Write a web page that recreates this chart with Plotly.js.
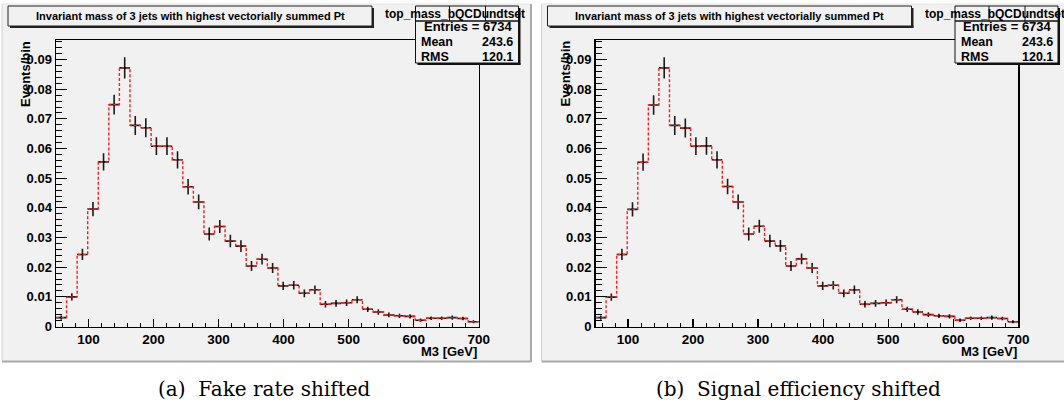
<!DOCTYPE html>
<html>
<head>
<meta charset="utf-8">
<script src="https://cdn.plot.ly/plotly-3.0.1.min.js"></script>
<style>html,body{margin:0;padding:0;background:#fff;}#chart{width:1064px;height:406px;}</style>
</head>
<body>
<div id="chart"></div>
<script>
// ---- data ----
const binLow = 50;
const binWidth = 16.25;
// panel (a): Fake rate shifted
const valuesA = [0.0030, 0.0100, 0.0243, 0.0396, 0.0555, 0.0748, 0.0872, 0.0678, 0.0670, 0.0608,
                 0.0608, 0.0562, 0.0471, 0.0420, 0.0312, 0.0337, 0.0288, 0.0271, 0.0204, 0.0227,
                 0.0197, 0.0137, 0.0139, 0.0112, 0.0124, 0.0075, 0.0078, 0.0080, 0.0090, 0.0058,
                 0.0049, 0.0039, 0.0036, 0.0034, 0.0021, 0.0028, 0.0028, 0.0030, 0.0027, 0.0016];
const errorsA = [0.0007, 0.0012, 0.0019, 0.0024, 0.0029, 0.0033, 0.0036, 0.0032, 0.0032, 0.0030,
                 0.0030, 0.0029, 0.0026, 0.0025, 0.0022, 0.0022, 0.0021, 0.0020, 0.0017, 0.0018,
                 0.0017, 0.0014, 0.0014, 0.0013, 0.0014, 0.0011, 0.0011, 0.0011, 0.0012, 0.0009,
                 0.0009, 0.0008, 0.0007, 0.0007, 0.0006, 0.0006, 0.0006, 0.0007, 0.0006, 0.0005];
// panel (b): Signal efficiency shifted
const valuesB = [0.0030, 0.0099, 0.0243, 0.0395, 0.0554, 0.0747, 0.0872, 0.0678, 0.0669, 0.0608,
                 0.0609, 0.0562, 0.0472, 0.0420, 0.0312, 0.0338, 0.0288, 0.0272, 0.0204, 0.0228,
                 0.0197, 0.0137, 0.0139, 0.0112, 0.0124, 0.0075, 0.0078, 0.0080, 0.0090, 0.0058,
                 0.0049, 0.0040, 0.0036, 0.0034, 0.0021, 0.0028, 0.0028, 0.0030, 0.0027, 0.0016];
const errorsB = errorsA.slice();

const xTickVals = [100, 200, 300, 400, 500, 600, 700];
const xTickText = ['100', '200', '300', '400', '500', '600', '700'];
const yTickVals = [0, 0.01, 0.02, 0.03, 0.04, 0.05, 0.06, 0.07, 0.08, 0.09];
const yTickText = ['0', '0.01', '0.02', '0.03', '0.04', '0.05', '0.06', '0.07', '0.08', '0.09'];

const histTitle = 'Invariant mass of 3 jets with highest vectorially summed Pt';
const statName = 'top_mass_bQCDundtset';
const statEntries = 'Entries = 6734';
const statMean = '243.6';
const statRMS = '120.1';
const xTitle = 'M3 [GeV]';
const yTitle = 'Events/bin';
const captions = ['(a)  Fake rate shifted', '(b)  Signal efficiency shifted'];

// ---- helpers ----
const W = 1064, H = 406;
const PX = p => p / W;
const PY = p => 1 - p / H;
const FONT = 'Liberation Sans';
const B = s => '<b>' + s + '</b>';

const centers = valuesA.map((_, i) => binLow + (i + 0.5) * binWidth);
const edges = valuesA.map((_, i) => binLow + i * binWidth).concat([binLow + valuesA.length * binWidth]);

function panelTraces(vals, errs, xa, ya) {
  return [
    {
      type: 'scatter', mode: 'markers', x: centers, y: vals, xaxis: xa, yaxis: ya,
      marker: {size: 2, color: '#000'},
      error_y: {type: 'data', array: errs, visible: true, width: 0, thickness: 1.6, color: '#1a1a1a'},
      error_x: {type: 'constant', value: binWidth / 2, visible: true, width: 0, thickness: 1.6, color: '#1a1a1a'},
      hoverinfo: 'skip', showlegend: false
    },
    {
      type: 'scatter', mode: 'lines', x: edges, y: vals.concat([vals[vals.length - 1]]), xaxis: xa, yaxis: ya,
      line: {shape: 'hv', color: '#ff1a1a', width: 1.4, dash: '3px,2px'},
      hoverinfo: 'skip', showlegend: false
    }
  ];
}

const data = panelTraces(valuesA, errorsA, 'x', 'y').concat(panelTraces(valuesB, errorsB, 'x2', 'y2'));

const shapes = [];
const annotations = [];
const offsets = [0, 539.5];

function rect(x0, y0, x1, y1, fill, lc, lw) {
  shapes.push({type: 'rect', xref: 'paper', yref: 'paper', x0: PX(x0), x1: PX(x1), y0: PY(y1), y1: PY(y0),
    fillcolor: fill, line: {color: lc, width: lw}, layer: 'below'});
}
function line(x0, y0, x1, y1, color, width, layer) {
  shapes.push({type: 'line', xref: 'paper', yref: 'paper', x0: PX(x0), x1: PX(x1), y0: PY(y0), y1: PY(y1),
    line: {color: color, width: width}, layer: layer || 'below'});
}
function text(t, x, y, size, xanchor, opts) {
  annotations.push(Object.assign({text: B(t), xref: 'paper', yref: 'paper', x: PX(x), y: PY(y),
    xanchor: xanchor, yanchor: 'middle', showarrow: false,
    font: {family: FONT, size: size, color: '#000'}}, opts || {}));
}

offsets.forEach((dx, k) => {
  // canvas
  rect(2 + dx, 4, 531 + dx, 361, '#f1f1f1', 'rgba(0,0,0,0)', 0);
  line(2 + dx, 4, 2 + dx, 361, '#d2d2d2', 1);
  line(2 + dx, 4, 531 + dx, 4, '#e6e6e6', 1);
  line(531 + dx, 4, 531 + dx, 362, '#a9a9a9', 2);
  line(2 + dx, 361.5, 531 + dx, 361.5, '#a9a9a9', 2);
  // title box
  const tb = {x0: 8 + dx, y0: 6, x1: 372 + dx, y1: 26};
  shapes.push({type: 'rect', xref: 'paper', yref: 'paper', x0: PX(tb.x0), x1: PX(tb.x1), y0: PY(tb.y1), y1: PY(tb.y0),
    fillcolor: '#f1f1f1', line: {color: '#222', width: 1}, layer: 'above'});
  line(tb.x1 + 1, tb.y0 + 2, tb.x1 + 1, tb.y1 + 1.5, '#222', 2, 'above');
  line(tb.x0 + 2, tb.y1 + 1, tb.x1 + 2, tb.y1 + 1, '#222', 2, 'above');
  text(histTitle, 190 + dx, 16.5, 11, 'center');
  // stat box header name
  text(statName, 383 + dx, 13.5, 12, 'left');
  // stat box
  const sb = {x0: 415.5 + dx, y0: 6, x1: 518.5 + dx, y1: 63};
  shapes.push({type: 'rect', xref: 'paper', yref: 'paper', x0: PX(sb.x0), x1: PX(sb.x1), y0: PY(sb.y1), y1: PY(21),
    fillcolor: '#f1f1f1', line: {color: '#111', width: 1}, layer: 'above'});
  shapes.push({type: 'rect', xref: 'paper', yref: 'paper', x0: PX(sb.x0), x1: PX(sb.x1), y0: PY(21), y1: PY(sb.y0),
    fillcolor: 'rgba(0,0,0,0)', line: {color: '#111', width: 1}, layer: 'above'});
  line(449.5 + dx, 6, 449.5 + dx, 21, '#111', 1, 'above');
  line(485.5 + dx, 6, 485.5 + dx, 21, '#111', 1, 'above');
  line(sb.x1 + 1, sb.y0 + 2, sb.x1 + 1, sb.y1 + 1.5, '#111', 2, 'above');
  line(sb.x0 + 2, sb.y1 + 1, sb.x1 + 2, sb.y1 + 1, '#111', 2, 'above');
  text(statEntries, 468 + dx, 27, 13, 'center');
  text('Mean', 419 + dx, 42, 12.5, 'left');
  text(statMean, 515 + dx, 42, 12.5, 'right');
  text('RMS', 419 + dx, 57, 12.5, 'left');
  text(statRMS, 515 + dx, 57, 12.5, 'right');
  // axis titles
  text(xTitle, 479 + dx, 351, 13, 'right');
  annotations.push({text: B(yTitle), xref: 'paper', yref: 'paper', x: PX(25 + dx), y: PY(39), xanchor: 'center', yanchor: 'top',
    textangle: -90, showarrow: false, font: {family: FONT, size: 13, color: '#000'}});
  // caption
  annotations.push({text: captions[k], xref: 'paper', yref: 'paper', x: PX(264 + dx - (k ? 5 : 0)), y: PY(389),
    xanchor: 'center', yanchor: 'middle', showarrow: false,
    font: {family: 'DejaVu Serif', size: 20, color: '#000'}});
});

function xAxis(domain, anchor) {
  return {domain: domain, anchor: anchor, range: [50, 700], showgrid: false, zeroline: false,
    showline: true, linecolor: '#000', linewidth: 1.5, mirror: true,
    ticks: 'inside', ticklen: 8, tickwidth: 1.2, tickcolor: '#000',
    tickmode: 'array', tickvals: xTickVals, ticktext: xTickText.map(B),
    minor: {tickmode: 'linear', tick0: 0, dtick: 20, ticks: 'inside', ticklen: 4, tickwidth: 1, tickcolor: '#000'},
    tickfont: {family: FONT, size: 13.5, color: '#000'}, fixedrange: true};
}
function yAxis(anchor) {
  return {domain: [PY(326.5), PY(40)], anchor: anchor, range: [0, 0.0966], showgrid: false, zeroline: false,
    showline: true, linecolor: '#000', linewidth: 1.5, mirror: true,
    ticks: 'inside', ticklen: 11, tickwidth: 1.2, tickcolor: '#000',
    tickmode: 'array', tickvals: yTickVals, ticktext: yTickText.map(B),
    minor: {tickmode: 'linear', tick0: 0, dtick: 0.002, ticks: 'inside', ticklen: 6, tickwidth: 1, tickcolor: '#000'},
    tickfont: {family: FONT, size: 13, color: '#000'}, fixedrange: true};
}

const layout = {
  width: W, height: H,
  margin: {l: 0, r: 0, t: 0, b: 0, pad: 0},
  paper_bgcolor: '#ffffff',
  plot_bgcolor: 'rgba(0,0,0,0)',
  showlegend: false,
  hovermode: false,
  xaxis: xAxis([PX(56), PX(478.7)], 'y'),
  yaxis: yAxis('x'),
  xaxis2: xAxis([PX(56 + 539.5), PX(478.7 + 539.5)], 'y2'),
  yaxis2: yAxis('x2'),
  shapes: shapes,
  annotations: annotations
};

Plotly.newPlot('chart', data, layout, {displayModeBar: false, staticPlot: true});
</script>
</body>
</html>
